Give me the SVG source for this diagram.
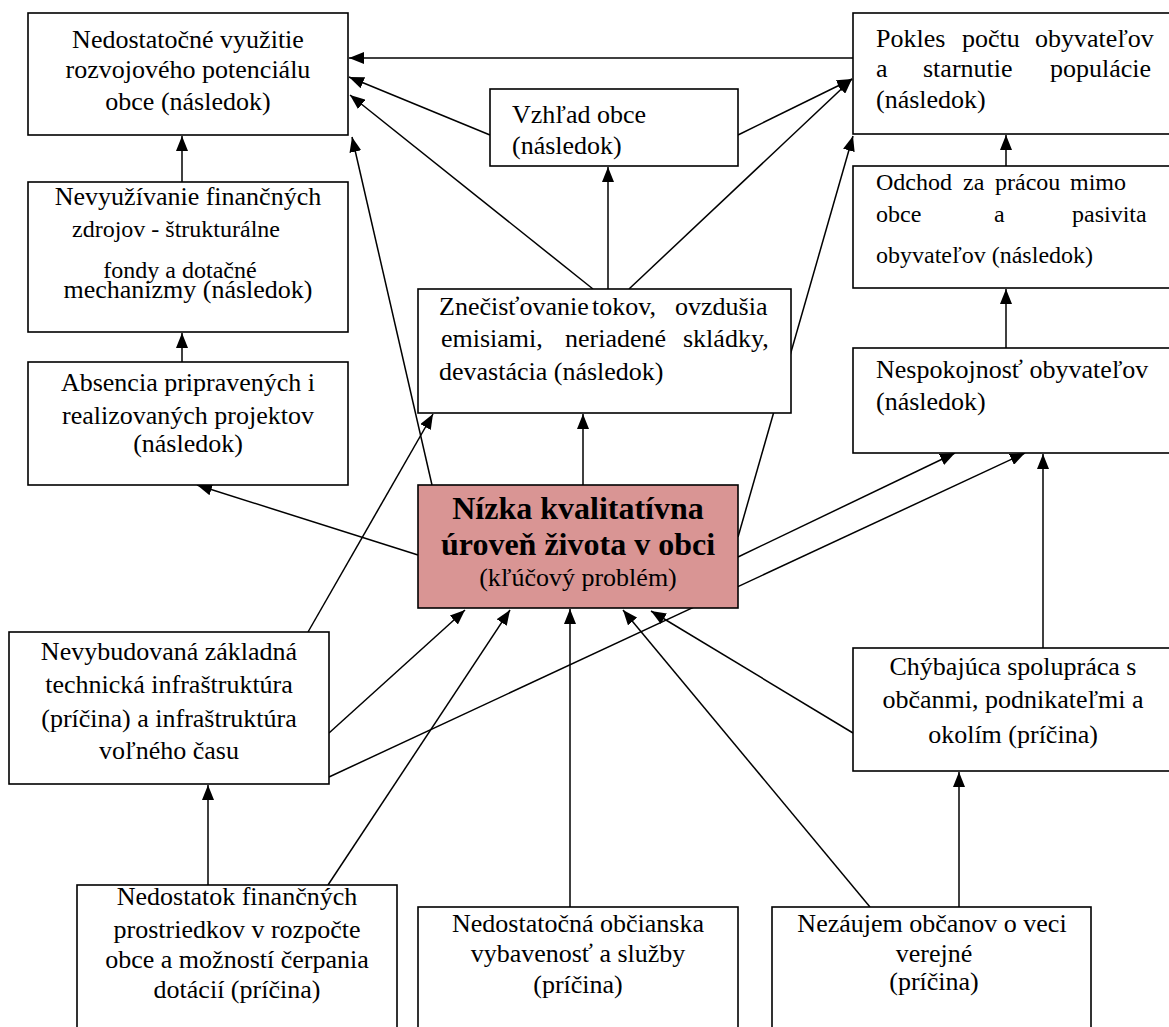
<svg xmlns="http://www.w3.org/2000/svg" width="1169" height="1027" viewBox="0 0 1169 1027">
<style>
.box{fill:#ffffff;stroke:#000000;stroke-width:1.6}
.key{fill:#d99594;stroke:#000000;stroke-width:1.6}
.t{font-family:"Liberation Serif","Times New Roman",serif;font-size:26px;fill:#000000}
.s{font-size:24px}
.c{text-anchor:middle}
.b{font-weight:bold;font-size:32px}
.con line{stroke:#000000;stroke-width:1.5;marker-end:url(#ah)}
</style>
<defs>
<marker id="ah" markerWidth="15" markerHeight="12" refX="15" refY="6" orient="auto" markerUnits="userSpaceOnUse">
<path d="M0,0 L15,6 L0,12 z" fill="#000000"/>
</marker>
</defs>
<rect x="0" y="0" width="1169" height="1027" fill="#ffffff"/>

<g class="con">
<line x1="853" y1="58" x2="349" y2="58"/>
<line x1="490" y1="135" x2="349" y2="77"/>
<line x1="593" y1="289" x2="350" y2="95"/>
<line x1="432" y1="485" x2="352" y2="137"/>
<line x1="182" y1="182" x2="182" y2="136"/>
<line x1="182" y1="362" x2="182" y2="333"/>
<line x1="418" y1="555" x2="197" y2="485"/>
<line x1="583" y1="485" x2="583" y2="414"/>
<line x1="608" y1="289" x2="608" y2="167"/>
<line x1="738" y1="135" x2="852" y2="79"/>
<line x1="629" y1="289" x2="852" y2="79"/>
<line x1="738" y1="537" x2="853" y2="136"/>
<line x1="1006" y1="166" x2="1006" y2="135"/>
<line x1="1006" y1="348" x2="1006" y2="289"/>
<line x1="738" y1="557" x2="955" y2="453"/>
<line x1="329" y1="777" x2="1025" y2="453"/>
<line x1="1043" y1="648" x2="1043" y2="454"/>
<line x1="853" y1="733" x2="651" y2="611"/>
<line x1="870" y1="907" x2="623" y2="610"/>
<line x1="570" y1="907" x2="570" y2="609"/>
<line x1="328" y1="885" x2="510" y2="610"/>
<line x1="329" y1="733" x2="465" y2="610"/>
<line x1="308" y1="632" x2="433" y2="414"/>
<line x1="208" y1="885" x2="208" y2="785"/>
<line x1="959" y1="907" x2="959" y2="772"/>
</g>

<g id="n-vyuzitie">
<rect class="box" x="28" y="13" width="320" height="122"/>
<text class="t c" x="188" y="48">Nedostatočné využitie</text>
<text class="t c" x="188" y="78">rozvojového potenciálu</text>
<text class="t c" x="188" y="110">obce  (následok)</text>
</g>

<g id="n-nevyuzivanie">
<rect class="box" x="28" y="182" width="320" height="150"/>
<text class="t c" x="188" y="205">Nevyužívanie finančných</text>
<text class="t s c" x="176" y="237">zdrojov - štrukturálne</text>
<text class="t s c" x="180" y="278">fondy a dotačné</text>
<text class="t c" x="188" y="298">mechanizmy (následok)</text>
</g>

<g id="n-absencia">
<rect class="box" x="28" y="362" width="320" height="123"/>
<text class="t c" x="188" y="391">Absencia pripravených i</text>
<text class="t c" x="188" y="424">realizovaných projektov</text>
<text class="t c" x="188" y="452">(následok)</text>
</g>

<g id="n-vzhlad">
<rect class="box" x="490" y="89" width="248" height="77"/>
<text class="t" x="512" y="123">Vzhľad obce</text>
<text class="t" x="512" y="154">(následok)</text>
</g>

<g id="n-znecistovanie">
<rect class="box" x="418" y="289" width="373" height="124"/>
<text class="t" y="315"><tspan x="439">Znečisťovanie</tspan><tspan x="592">tokov,</tspan><tspan x="675">ovzdušia</tspan></text>
<text class="t" y="347"><tspan x="441">emisiami,</tspan><tspan x="565">neriadené</tspan><tspan x="683">skládky,</tspan></text>
<text class="t" x="439" y="380">devastácia (následok)</text>
</g>

<g id="n-pokles">
<rect class="box" x="853" y="13" width="330" height="121"/>
<text class="t" y="47"><tspan x="876">Pokles</tspan><tspan x="962">počtu</tspan><tspan x="1035">obyvateľov</tspan></text>
<text class="t" y="77"><tspan x="876">a</tspan><tspan x="923">starnutie</tspan><tspan x="1050">populácie</tspan></text>
<text class="t" x="876" y="108">(následok)</text>
</g>

<g id="n-odchod">
<rect class="box" x="853" y="166" width="330" height="122"/>
<text class="t s" y="190"><tspan x="876">Odchod</tspan><tspan x="963">za</tspan><tspan x="995">prácou</tspan><tspan x="1070">mimo</tspan></text>
<text class="t s" y="222"><tspan x="876">obce</tspan><tspan x="994">a</tspan><tspan x="1072">pasivita</tspan></text>
<text class="t s" x="876" y="263">obyvateľov (následok)</text>
</g>

<g id="n-nespokojnost">
<rect class="box" x="853" y="348" width="330" height="105"/>
<text class="t" x="876" y="378">Nespokojnosť obyvateľov</text>
<text class="t" x="876" y="410">(následok)</text>
</g>

<g id="n-key">
<rect class="key" x="418" y="485" width="320" height="123"/>
<text class="t b c" x="578" y="519">Nízka kvalitatívna</text>
<text class="t b c" x="578" y="555">úroveň života v obci</text>
<text class="t c" x="578" y="586">(kľúčový problém)</text>
</g>

<g id="n-nevybudovana">
<rect class="box" x="9" y="632" width="320" height="152"/>
<text class="t c" x="169" y="660">Nevybudovaná základná</text>
<text class="t c" x="169" y="693">technická infraštruktúra</text>
<text class="t c" x="169" y="727">(príčina) a infraštruktúra</text>
<text class="t c" x="169" y="759">voľného času</text>
</g>

<g id="n-chybajuca">
<rect class="box" x="853" y="648" width="330" height="123"/>
<text class="t c" x="1013" y="675">Chýbajúca spolupráca s</text>
<text class="t c" x="1013" y="708">občanmi, podnikateľmi a</text>
<text class="t c" x="1013" y="743">okolím (príčina)</text>
</g>

<g id="n-nedostatok">
<rect class="box" x="77" y="885" width="320" height="160"/>
<text class="t c" x="237" y="905">Nedostatok finančných</text>
<text class="t c" x="237" y="938">prostriedkov v rozpočte</text>
<text class="t c" x="237" y="968">obce a možností čerpania</text>
<text class="t c" x="237" y="998">dotácií (príčina)</text>
</g>

<g id="n-obcianska">
<rect class="box" x="418" y="907" width="320" height="140"/>
<text class="t c" x="578" y="932">Nedostatočná občianska</text>
<text class="t c" x="578" y="962">vybavenosť a služby</text>
<text class="t c" x="578" y="993">(príčina)</text>
</g>

<g id="n-nezaujem">
<rect class="box" x="772" y="907" width="319" height="140"/>
<text class="t c" x="932" y="932">Nezáujem občanov o veci</text>
<text class="t c" x="934" y="962">verejné</text>
<text class="t c" x="934" y="990">(príčina)</text>
</g>
</svg>
